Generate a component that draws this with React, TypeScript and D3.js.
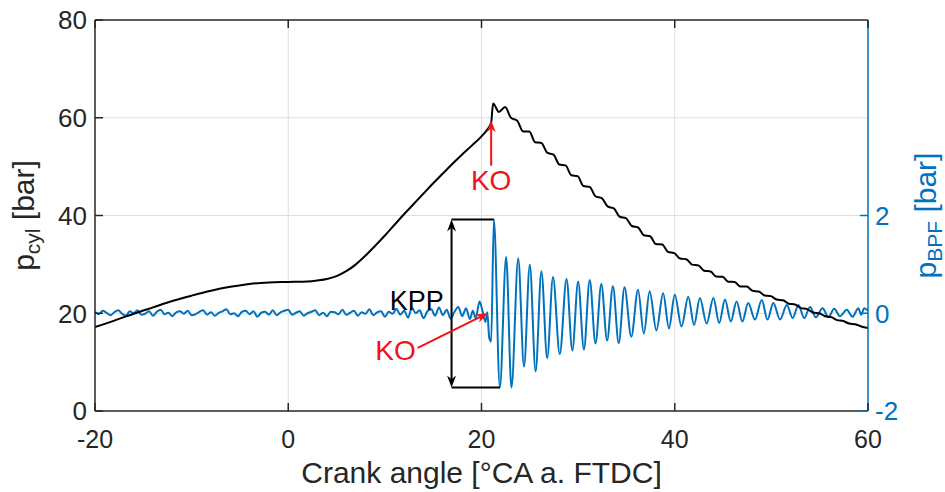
import React from 'react';
import * as d3 from 'd3';

// ---------- data ----------
const angleTicks = [-20, 0, 20, 40, 60];
const pcylTicks = [0, 20, 40, 60, 80];
const bpfTicks = [-2, 0, 2];
const angleDomain = [-20, 60];
const pcylDomain = [0, 80];
const bpfDomain = [-2, 6];

// cylinder pressure [angle, bar]
const pcylCurve: [number, number][] = [
  [-20, 17.2], [-18, 18.5], [-16, 19.9], [-14, 21.2], [-12, 22.5], [-10, 23.6], [-8, 24.6], [-6, 25.4],
  [-4, 26.0], [-2, 26.3], [0, 26.4], [2, 26.5], [3, 26.7], [4, 27.0], [5, 27.6], [6, 28.6], [7, 30.0],
  [8, 31.8], [9, 33.8], [10, 35.9], [11, 38.1], [12, 40.3], [13, 42.4], [14, 44.5], [15, 46.6], [16, 48.6],
  [17, 50.6], [18, 52.5], [19, 54.3], [20, 56.2], [20.6, 57.6], [21.0, 59.0], [21.2, 62.9],
  [21.8, 61.2], [22.45, 62.2], [23.05, 60.0], [23.7, 59.4], [24.3, 57.2], [24.95, 57.2], [25.55, 55.0],
  [26.2, 54.85], [26.8, 52.85], [27.45, 52.45], [28.05, 50.45], [28.7, 50.25], [29.3, 48.25], [29.95, 48.05],
  [30.55, 46.05], [31.2, 45.85], [31.8, 43.9], [32.45, 43.55], [33.05, 41.85], [33.7, 41.45], [34.3, 39.75],
  [34.95, 39.45], [35.55, 37.85], [36.2, 37.55], [36.8, 35.95], [37.45, 35.75], [38.05, 34.15], [38.7, 34.05],
  [39.3, 32.55], [39.95, 32.3], [40.55, 31.2], [41.2, 31.05], [41.8, 29.95], [42.45, 29.8], [43.05, 28.7],
  [43.7, 28.55], [44.3, 27.5], [44.95, 27.45], [45.55, 26.45], [46.2, 26.4], [46.8, 25.45], [47.45, 25.45],
  [48.05, 24.6], [48.7, 24.45], [49.3, 23.65], [49.95, 23.5], [50.55, 22.8], [51.2, 22.65], [51.8, 21.95],
  [52.45, 21.8], [53.05, 21.05], [53.7, 20.85], [54.3, 20.15], [54.95, 20.0], [55.55, 19.4], [56.2, 19.2],
  [56.8, 18.6], [57.45, 18.4], [58.05, 17.9], [58.7, 17.75], [59.3, 17.3], [60.0, 17.0],
];

// band-pass filtered pressure: sampled noise before knock onset
const bpfNoiseStart = -20;
const bpfNoiseStep = 0.4;
const bpfNoise = [
  0.03, -0.02, 0.05, 0.01, -0.04, 0.02, 0.06, -0.01, -0.05, 0.04,
  0.00, 0.06, -0.03, -0.01, 0.04, -0.05, 0.03, 0.07, -0.02, 0.01,
  -0.06, 0.02, 0.04, -0.01, 0.05, -0.04, -0.02, 0.03, 0.06, -0.03,
  0.02, -0.05, 0.01, 0.04, 0.08, -0.02, 0.00, -0.06, 0.03, 0.05,
  -0.02, 0.04, -0.07, 0.01, 0.03, -0.03, 0.06, -0.04, 0.02, 0.05,
  0.07, -0.03, 0.01, 0.04, -0.05, 0.00, 0.03, 0.06, -0.04, 0.01,
  -0.06, 0.03, 0.02, -0.02, 0.07, -0.03, 0.01, 0.05, -0.05, 0.02,
  -0.01, 0.08, -0.04, 0.02, 0.04, -0.07, 0.03, -0.01, 0.09, -0.03,
  0.05, -0.09, 0.11, 0.00, 0.06, -0.10, 0.04, 0.08, -0.05, 0.12,
  -0.04, 0.07, -0.11, 0.03, 0.13, -0.06, 0.10, -0.12,
];

// band-pass filtered pressure around and after knock onset [angle, bar]
const bpfKnock: [number, number][] = [
  [19.1, 0.05], [19.4, -0.1], [19.8, 0.24], [20.1, 0.05], [20.4, -0.18], [20.6, 0.02], [20.8, -0.5],
  [21.0, -0.58], [21.28, 1.92], [21.9, -1.52], [22.55, 1.15], [23.1, -1.52], [23.8, 1.12], [24.4, -1.09],
  [25.0, 0.99], [25.6, -1.19], [26.2, 0.86], [26.8, -0.92], [27.4, 0.74], [28.1, -0.84], [28.8, 0.70],
  [29.4, -0.76], [30.0, 0.65], [30.6, -0.74], [31.2, 0.68], [31.8, -0.62], [32.4, 0.60], [33.0, -0.56],
  [33.6, 0.55], [34.2, -0.61], [34.8, 0.53], [35.5, -0.48], [36.2, 0.48], [36.8, -0.42], [37.4, 0.45],
  [38.1, -0.35], [38.8, 0.41], [39.4, -0.31], [40.0, 0.38], [40.7, -0.27], [41.4, 0.34], [42.0, -0.24],
  [42.6, 0.31], [43.3, -0.21], [44.0, 0.31], [44.6, -0.2], [45.2, 0.28], [45.8, -0.17], [46.4, 0.24],
  [47.0, -0.17], [47.6, 0.21], [48.3, -0.13], [49.0, 0.27], [49.6, -0.13], [50.2, 0.21], [50.9, -0.13],
  [51.6, 0.17], [52.2, -0.1], [52.8, 0.17], [53.4, -0.1], [54.0, 0.13], [54.6, -0.08], [55.3, 0.1],
  [55.9, -0.08], [56.5, 0.09], [57.1, -0.06], [57.8, 0.07], [58.4, -0.07], [59.0, 0.1], [59.3, -0.03],
  [59.6, 0.1], [60.0, 0.05],
];

// annotations (data coordinates)
const koCyl = { tip: [21.0, 59.5], tail: [21.0, 50.2], label: [21.0, 45.2] };
const koBpf = { tip: [20.66, 0.0], tail: [13.4, -0.71], label: [11.1, -0.95] };
const kpp = { left: 16.9, maxAt: [21.28, 1.92], minAt: [21.9, -1.52], label: [16.1, 0.07] };

// ---------- styling ----------
const FONT = '"Liberation Sans", Arial, Helvetica, sans-serif';
const AXIS = '#262626';
const BLUE = '#0072BD';
const GRID = '#dedede';
const RED = '#f01414';

function arrowHead(x1: number, y1: number, x2: number, y2: number, len = 11, half = 4.5) {
  const a = Math.atan2(y2 - y1, x2 - x1);
  const c = Math.cos(a), s = Math.sin(a);
  const bx = x2 - len * c, by = y2 - len * s;
  const nx = -s, ny = c;
  const kx = x2 - len * 0.7 * c, ky = y2 - len * 0.7 * s;
  return {
    d: `M${x2},${y2}L${bx + nx * half},${by + ny * half}L${kx},${ky}L${bx - nx * half},${by - ny * half}Z`,
    end: [kx, ky],
  };
}

export default function App() {
  const W = 945, H = 492;
  const left = 95, right = 868, top = 20, bottom = 411;
  const x = d3.scaleLinear().domain(angleDomain).range([left, right]);
  const yL = d3.scaleLinear().domain(pcylDomain).range([bottom, top]);
  const yR = d3.scaleLinear().domain(bpfDomain).range([bottom, top]);

  const bpfAll: [number, number][] = bpfNoise
    .map((v, i) => [bpfNoiseStart + i * bpfNoiseStep, v] as [number, number])
    .concat(bpfKnock);

  const lineCyl = d3.line<[number, number]>().x(d => x(d[0])).y(d => yL(d[1])).curve(d3.curveMonotoneX);
  const lineBpf = d3.line<[number, number]>().x(d => x(d[0])).y(d => yR(d[1])).curve(d3.curveMonotoneX);

  const k1t = [x(koCyl.tip[0]), yL(koCyl.tip[1])];
  const k1s = [x(koCyl.tail[0]), yL(koCyl.tail[1])];
  const h1 = arrowHead(k1s[0], k1s[1], k1t[0], k1t[1], 12, 4.5);
  const k2t = [x(koBpf.tip[0]), yR(koBpf.tip[1])];
  const k2s = [x(koBpf.tail[0]), yR(koBpf.tail[1])];
  const h2 = arrowHead(k2s[0], k2s[1], k2t[0], k2t[1], 12, 4.5);
  const kx = x(kpp.left);
  const kyTop = yR(kpp.maxAt[1]);
  const kyBot = yR(kpp.minAt[1]);
  const hTop = arrowHead(kx, kyBot, kx, kyTop, 12, 4.5);
  const hBot = arrowHead(kx, kyTop, kx, kyBot, 12, 4.5);

  const tickLen = 8;

  return (
    <svg width={W} height={H} style={{ position: 'absolute', left: 0, top: 0, background: '#fff' }} fontFamily={FONT}>
      <rect x={0} y={0} width={W} height={H} fill="#fff" />
      {angleTicks.filter(t => t > angleDomain[0] && t < angleDomain[1]).map(t => (
        <line key={'gx' + t} x1={x(t)} x2={x(t)} y1={top} y2={bottom} stroke={GRID} strokeWidth={1} />
      ))}
      {pcylTicks.filter(t => t > pcylDomain[0] && t < pcylDomain[1]).map(t => (
        <line key={'gy' + t} x1={left} x2={right} y1={yL(t)} y2={yL(t)} stroke={GRID} strokeWidth={1} />
      ))}

      <path d={lineBpf(bpfAll) || ''} fill="none" stroke={BLUE} strokeWidth={2} strokeLinejoin="round" />
      <path d={lineCyl(pcylCurve) || ''} fill="none" stroke="#000" strokeWidth={2} strokeLinejoin="round" />

      <line x1={left} x2={right} y1={top} y2={top} stroke={AXIS} strokeWidth={1.5} />
      <line x1={left} x2={right} y1={bottom} y2={bottom} stroke={AXIS} strokeWidth={1.5} />
      <line x1={left} x2={left} y1={top} y2={bottom} stroke={AXIS} strokeWidth={1.5} />
      <line x1={right} x2={right} y1={top} y2={bottom} stroke={BLUE} strokeWidth={1.5} />

      {angleTicks.map(t => (
        <g key={'xt' + t}>
          <line x1={x(t)} x2={x(t)} y1={bottom} y2={bottom - tickLen} stroke={AXIS} strokeWidth={1.5} />
          <line x1={x(t)} x2={x(t)} y1={top} y2={top + tickLen} stroke={AXIS} strokeWidth={1.5} />
          <text x={x(t)} y={448} textAnchor="middle" fontSize={25} fill={AXIS}>{t}</text>
        </g>
      ))}
      {pcylTicks.map(t => (
        <g key={'yl' + t}>
          <line x1={left} x2={left + tickLen} y1={yL(t)} y2={yL(t)} stroke={AXIS} strokeWidth={1.5} />
          <text x={87} y={yL(t)} dy="0.36em" textAnchor="end" fontSize={26} fill={AXIS}>{t}</text>
        </g>
      ))}
      {bpfTicks.map(t => (
        <g key={'yr' + t}>
          <line x1={right} x2={right - tickLen} y1={yR(t)} y2={yR(t)} stroke={BLUE} strokeWidth={1.5} />
          <text x={875} y={yR(t)} dy="0.36em" textAnchor="start" fontSize={26} fill={BLUE}>{t}</text>
        </g>
      ))}

      <text x={(left + right) / 2} y={483} textAnchor="middle" fontSize={30} fill={AXIS}>Crank angle [°CA a. FTDC]</text>
      <text transform={`translate(34,${(top + bottom) / 2}) rotate(-90)`} textAnchor="middle" fontSize={30} fill={AXIS}>
        p<tspan fontSize={21} dy={6}>cyl</tspan><tspan dy={-6}> [bar]</tspan>
      </text>
      <text transform={`translate(936,${(top + bottom) / 2}) rotate(-90)`} textAnchor="middle" fontSize={30} fill={BLUE}>
        p<tspan fontSize={21} dy={6}>BPF</tspan><tspan dy={-6}> [bar]</tspan>
      </text>

      <line x1={kx} x2={x(kpp.maxAt[0])} y1={kyTop} y2={kyTop} stroke="#000" strokeWidth={2} />
      <line x1={kx} x2={x(kpp.minAt[0])} y1={kyBot} y2={kyBot} stroke="#000" strokeWidth={2} />
      <line x1={kx} x2={kx} y1={hTop.end[1]} y2={hBot.end[1]} stroke="#000" strokeWidth={2} />
      <path d={hTop.d} fill="#000" />
      <path d={hBot.d} fill="#000" />
      <text x={x(kpp.label[0])} y={yR(kpp.label[1])} textAnchor="end" fontSize={27} fill="#000">KPP</text>

      <line x1={k1s[0]} y1={k1s[1]} x2={h1.end[0]} y2={h1.end[1]} stroke={RED} strokeWidth={2} />
      <path d={h1.d} fill={RED} />
      <text x={x(koCyl.label[0])} y={yL(koCyl.label[1])} textAnchor="middle" fontSize={28} fill={RED}>KO</text>

      <line x1={k2s[0]} y1={k2s[1]} x2={h2.end[0]} y2={h2.end[1]} stroke={RED} strokeWidth={2} />
      <path d={h2.d} fill={RED} />
      <text x={x(koBpf.label[0])} y={yR(koBpf.label[1])} textAnchor="middle" fontSize={28} fill={RED}>KO</text>
    </svg>
  );
}
